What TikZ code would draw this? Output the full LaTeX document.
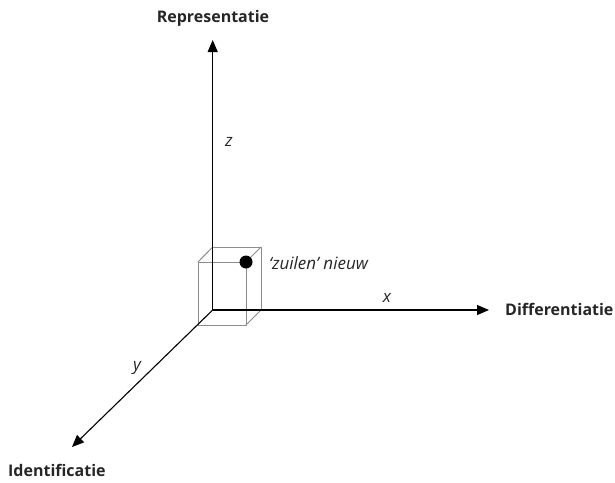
\documentclass[tikz,border=0pt]{standalone}
\usepackage{fontspec}
\setmainfont{Open Sans}
\usetikzlibrary{arrows.meta}
\begin{document}
\begin{tikzpicture}[x=1pt,y=-1pt,
  axis/.style={line width=1.1pt,-{Triangle[length=12pt,width=10pt]}},
  cubeline/.style={draw=black!45,line width=1pt},
  axislabel/.style={font=\fontsize{16}{18}\selectfont\bfseries,inner sep=0pt,text=black!85},
  letter/.style={font=\fontsize{17}{19}\selectfont\itshape,inner sep=0pt,text=black!85}]
\useasboundingbox (0,0) rectangle (615,482);
% coordinates
\coordinate (O) at (212.7,310);
\coordinate (Ztip) at (212.7,40);
\coordinate (Xtip) at (489,310);
\coordinate (Ytip) at (72,447);
% cube
\coordinate (B1) at (212.7,247);
\coordinate (B2) at (261,247);
\coordinate (B3) at (261,310);
\coordinate (F1) at (198,262);
\coordinate (F2) at (246,262);
\coordinate (F3) at (246,325);
\coordinate (F4) at (198,325);
\draw[cubeline] (B1) -- (B2) -- (B3);
\draw[cubeline] (F1) -- (F2) -- (F3) -- (F4) -- cycle;
\draw[cubeline] (B1) -- (F1);
\draw[cubeline] (B2) -- (F2);
\draw[cubeline] (B3) -- (F3);
% axes
\draw[axis] (O) -- (Ztip);
\draw[axis] (O) -- (Xtip);
\draw[axis] (O) -- (Ytip);
% dot
\fill (F2) circle (6.5pt);
% labels
\node[axislabel] (rep) at (213,18) {Representatie};
\node[axislabel,anchor=west] (dif) at (505,309) {Differentiatie};
\node[axislabel,anchor=west] (idf) at (8,470) {Identificatie};
\node[letter] (z) at (229,142) {z};
\node[letter] (x) at (387,298) {x};
\node[letter] (y) at (137,368) {y};
\node[letter,anchor=west] (zn) at (269,263) {‘zuilen’ nieuw};
\end{tikzpicture}
\end{document}
